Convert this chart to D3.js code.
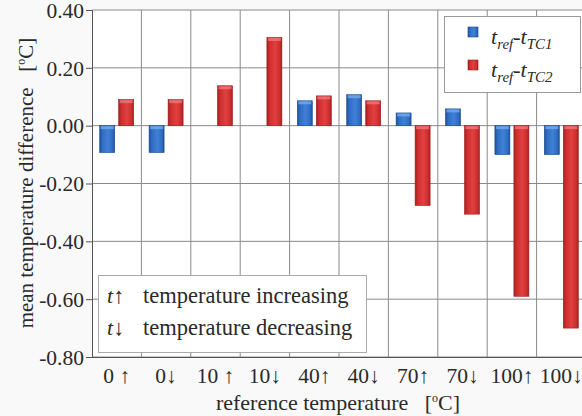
<!DOCTYPE html>
<html><head><meta charset="utf-8">
<script src="https://cdn.jsdelivr.net/npm/d3@7/dist/d3.min.js"></script>
<style>
html,body{margin:0;padding:0;background:#f9f9f9;}
svg{display:block;}
svg text{font-family:"Liberation Serif","DejaVu Serif",serif !important;fill:#2a2a2a;white-space:pre;}
</style></head>
<body>
<svg id="chart" width="582" height="416"></svg>
<script>
const categories = ["0 ↑","0↓","10 ↑","10↓","40↑","40↓","70↑","70↓","100↑","100↓"];
const seriesNames = ["TC1","TC2"];
const tc1Values = [-0.093,-0.093,0,0,0.086,0.107,0.044,0.058,-0.100,-0.100];
const tc2Values = [0.090,0.090,0.138,0.305,0.103,0.086,-0.276,-0.306,-0.590,-0.700];
const yTicks = [0.40,0.20,0.00,-0.20,-0.40,-0.60,-0.80];
const tickLabels = ["0.40","0.20","0.00","-0.20","-0.40","-0.60","-0.80"];

(function(){
const svg = d3.select("#chart");
const pL = 92, pR = 586, pT = 10, pB = 357;

const x = d3.scaleBand().domain(categories).range([pL, pR]).padding(0);
const xs = d3.scaleBand().domain(seriesNames).range([0, x.bandwidth()]).paddingInner(0.21).paddingOuter(0.405);
const y = d3.scaleLinear().domain([-0.8, 0.4]).range([pB, pT]);

const defs = svg.append("defs");
function grad(id, edge, mid, light) {
  const g = defs.append("linearGradient").attr("id", id).attr("x1","0").attr("x2","1").attr("y1","0").attr("y2","0");
  g.append("stop").attr("offset","0%").attr("stop-color",edge);
  g.append("stop").attr("offset","18%").attr("stop-color",mid);
  g.append("stop").attr("offset","55%").attr("stop-color",light);
  g.append("stop").attr("offset","85%").attr("stop-color",mid);
  g.append("stop").attr("offset","100%").attr("stop-color",edge);
}
grad("gBlue", "#1d4f98", "#2f6dc4", "#3f80d6");
grad("gRed", "#a51f1f", "#cf2e2e", "#e04040");
const fills = {TC1: "url(#gBlue)", TC2: "url(#gRed)"};
const strokes = {TC1: "#1c4a8e", TC2: "#9a1e1e"};
const caps = {TC1: "#7fb0ee", TC2: "#f08080"};

svg.append("rect").attr("x", pL).attr("y", pT).attr("width", pR-pL).attr("height", pB-pT).attr("fill", "#ffffff");

svg.append("g").selectAll("line").data(yTicks).join("line")
  .attr("x1", pL).attr("x2", pR).attr("y1", d => y(d)).attr("y2", d => y(d))
  .attr("stroke", "#8a8a8a").attr("stroke-width", 1);
svg.append("g").selectAll("line").data(categories.slice(1)).join("line")
  .attr("x1", d => x(d)).attr("x2", d => x(d)).attr("y1", pT).attr("y2", pB)
  .attr("stroke", "#8a8a8a").attr("stroke-width", 1);

const rows = categories.map((c, i) => ({c, vals: [{s:"TC1", v: tc1Values[i]}, {s:"TC2", v: tc2Values[i]}]}));
const barG = svg.append("g");
rows.forEach(r => {
  r.vals.forEach(d => {
    if (d.v === 0) return;
    const bx = x(r.c) + xs(d.s);
    const y0 = Math.min(y(d.v), y(0)), h = Math.abs(y(d.v) - y(0));
    barG.append("rect").attr("x", bx).attr("y", y0).attr("width", xs.bandwidth()).attr("height", h)
      .attr("fill", fills[d.s]).attr("stroke", strokes[d.s]).attr("stroke-width", 0.6);
    barG.append("rect").attr("x", bx + 1).attr("y", y0 + 0.5).attr("width", xs.bandwidth() - 2).attr("height", Math.min(3, h - 1))
      .attr("fill", caps[d.s]).attr("opacity", 0.7);
  });
});

const yAxis = d3.axisLeft(y).tickValues(yTicks).tickSize(6).tickFormat((d, i) => tickLabels[i]);
const ya = svg.append("g").attr("transform", `translate(${pL},0)`).call(yAxis);
ya.attr("font-family", null);
ya.select(".domain").attr("stroke", "#555");
ya.selectAll(".tick line").attr("stroke", "#555");
ya.selectAll(".tick text").attr("font-size", 21.5).attr("fill", "#2a2a2a").attr("x", -8).attr("dy", "0.34em");

const xAxis = d3.axisBottom(x).tickSize(0).tickPadding(11);
const xa = svg.append("g").attr("transform", `translate(0,${pB})`).call(xAxis);
xa.attr("font-family", null);
xa.select(".domain").attr("stroke", "#555").attr("d", `M${pL - 6},0.5H${pR}`);
xa.selectAll(".tick text").attr("font-size", 21.5).attr("fill", "#2a2a2a");

const yt = svg.append("text").attr("transform", "translate(33,183) rotate(-90)").attr("text-anchor", "middle").attr("font-size", 21);
yt.append("tspan").text("mean temperature difference   [");
yt.append("tspan").attr("font-size", 12).attr("dy", -8).text("o");
yt.append("tspan").attr("dy", 8).text("C]");

const xt = svg.append("text").attr("x", 338).attr("y", 410).attr("text-anchor", "middle").attr("font-size", 22);
xt.append("tspan").text("reference temperature   [");
xt.append("tspan").attr("font-size", 12).attr("dy", -8).text("o");
xt.append("tspan").attr("dy", 8).text("C]");

const lg = svg.append("g");
lg.append("rect").attr("x", 444.5).attr("y", 16.5).attr("width", 136).attr("height", 76).attr("fill", "#fff").attr("stroke", "#999");
seriesNames.forEach((s, i) => {
  const yy = 27 + i * 33;
  lg.append("rect").attr("x", 468).attr("y", yy).attr("width", 10).attr("height", 10).attr("fill", fills[s]).attr("stroke", strokes[s]).attr("stroke-width", 0.6);
  const t = lg.append("text").attr("x", 491).attr("y", yy + 17).attr("font-size", 22).attr("font-style", "italic");
  t.append("tspan").text("t");
  t.append("tspan").attr("font-size", 15).attr("dy", 5).text("ref");
  t.append("tspan").attr("dy", -5).attr("font-style", "normal").text("-");
  t.append("tspan").text("t");
  t.append("tspan").attr("font-size", 15).attr("dy", 5).text(s === "TC1" ? "TC1" : "TC2");
});

const dg = svg.append("g");
dg.append("rect").attr("x", 98.5).attr("y", 275.5).attr("width", 268).attr("height", 77).attr("fill", "#fff").attr("stroke", "#aaa");
const dirs = [["↑", "temperature increasing"], ["↓", "temperature decreasing"]];
dirs.forEach((d, i) => {
  const yy = 303 + i * 32;
  const t = dg.append("text").attr("x", 107).attr("y", yy).attr("font-size", 22);
  t.append("tspan").attr("font-style", "italic").text("t");
  t.append("tspan").text(d[0]);
  dg.append("text").attr("x", 143).attr("y", yy).attr("font-size", 22.5).text(d[1]);
});
})();
</script>
</body></html>
